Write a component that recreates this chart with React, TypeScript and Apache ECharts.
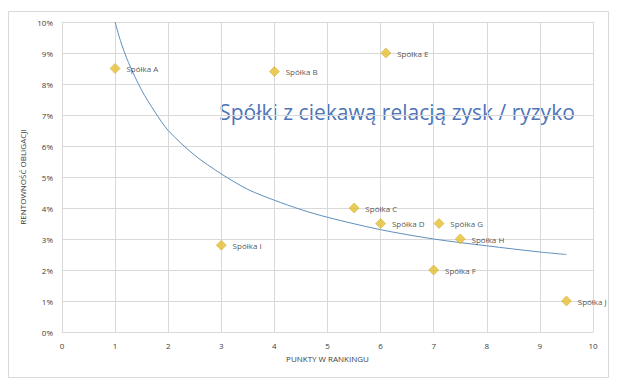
import React, { useEffect, useRef } from "react";
import * as echarts from "echarts";

const companyNames = ["Spółka A", "Spółka B", "Spółka E", "Spółka C", "Spółka D", "Spółka G", "Spółka H", "Spółka F", "Spółka I", "Spółka J"];
const rankingPoints = [1, 4, 6.1, 5.5, 6, 7.1, 7.5, 7, 3, 9.5];
const bondYields = [0.085, 0.084, 0.09, 0.04, 0.035, 0.035, 0.03, 0.02, 0.028, 0.01];

const trendX = [1, 1.1, 1.25, 1.5, 1.75, 2, 2.5, 3, 3.5, 4, 4.5, 5, 6, 7, 8, 9, 9.5];
const trendY = [0.1, 0.094, 0.087, 0.078, 0.071, 0.065, 0.057, 0.051, 0.046, 0.0425, 0.0395, 0.037, 0.033, 0.030, 0.0278, 0.0258, 0.025];

const xTicks = [0, 1, 2, 3, 4, 5, 6, 7, 8, 9, 10];

export default function App() {
  const ref = useRef<HTMLDivElement>(null);
  useEffect(() => {
    if (!ref.current) return;
    const chart = echarts.init(ref.current, undefined, { renderer: "svg" });
    const font = "'Open Sans', 'Liberation Sans', sans-serif";
    chart.setOption({
      animation: false,
      backgroundColor: "#ffffff",
      textStyle: { fontFamily: font },
      grid: { left: 62, right: 34, top: 22, bottom: 59 },
      graphic: [
        {
          type: "rect",
          shape: { x: 8.5, y: 11.5, width: 600, height: 366 },
          style: { fill: "none", stroke: "#d9d9d9", lineWidth: 1 },
          z: -1,
        },
        {
          type: "text",
          x: 397,
          y: 112,
          style: {
            text: "Spółki z ciekawą relacją zysk / ryzyko",
            fontFamily: font,
            fontSize: 21,
            fill: "#4f74b8",
            align: "center",
            verticalAlign: "middle",
          },
        },
      ],
      xAxis: {
        type: "value",
        min: 0,
        max: 10,
        interval: 1,
        name: "PUNKTY W RANKINGU",
        nameLocation: "middle",
        nameGap: 22,
        nameTextStyle: { fontSize: 8, color: "#404040", fontFamily: font },
        axisLine: { show: true, lineStyle: { color: "#d9d9d9" } },
        axisTick: { show: false },
        axisLabel: { fontSize: 8, color: "#404040", margin: 9, fontFamily: font },
        splitLine: { show: true, lineStyle: { color: "#d9d9d9", width: 1 } },
        data: xTicks,
      },
      yAxis: {
        type: "value",
        min: 0,
        max: 0.1,
        interval: 0.01,
        name: "RENTOWNOŚĆ OBLIGACJI",
        nameLocation: "middle",
        nameRotate: 90,
        nameGap: 27,
        nameTextStyle: { fontSize: 8, color: "#404040", fontFamily: font },
        axisLine: { show: false },
        axisTick: { show: false },
        axisLabel: {
          fontSize: 8,
          color: "#404040",
          margin: 9,
          fontFamily: font,
          formatter: (v: number) => Math.round(v * 100) + "%",
        },
        splitLine: { show: true, lineStyle: { color: "#d9d9d9", width: 1 } },
      },
      series: [
        {
          type: "line",
          data: trendX.map((x, i) => [x, trendY[i]]),
          smooth: 0.3,
          showSymbol: false,
          symbol: "none",
          lineStyle: { color: "#5e8fbd", width: 1 },
          z: 2,
        },
        {
          type: "scatter",
          data: rankingPoints.map((x, i) => ({ value: [x, bondYields[i]], name: companyNames[i] })),
          symbol: "diamond",
          symbolSize: 10,
          itemStyle: { color: "#e6bf2e", borderColor: "#c9a227", borderWidth: 0.6 },
          label: {
            show: true,
            position: "right",
            distance: 6,
            formatter: (p: any) => p.name,
            fontSize: 8,
            color: "#262626",
            fontFamily: font,
          },
          z: 3,
        },
      ],
    });
    return () => chart.dispose();
  }, []);
  return <div ref={ref} style={{ position: "fixed", left: 0, top: 0, width: 627, height: 391 }} />;
}
